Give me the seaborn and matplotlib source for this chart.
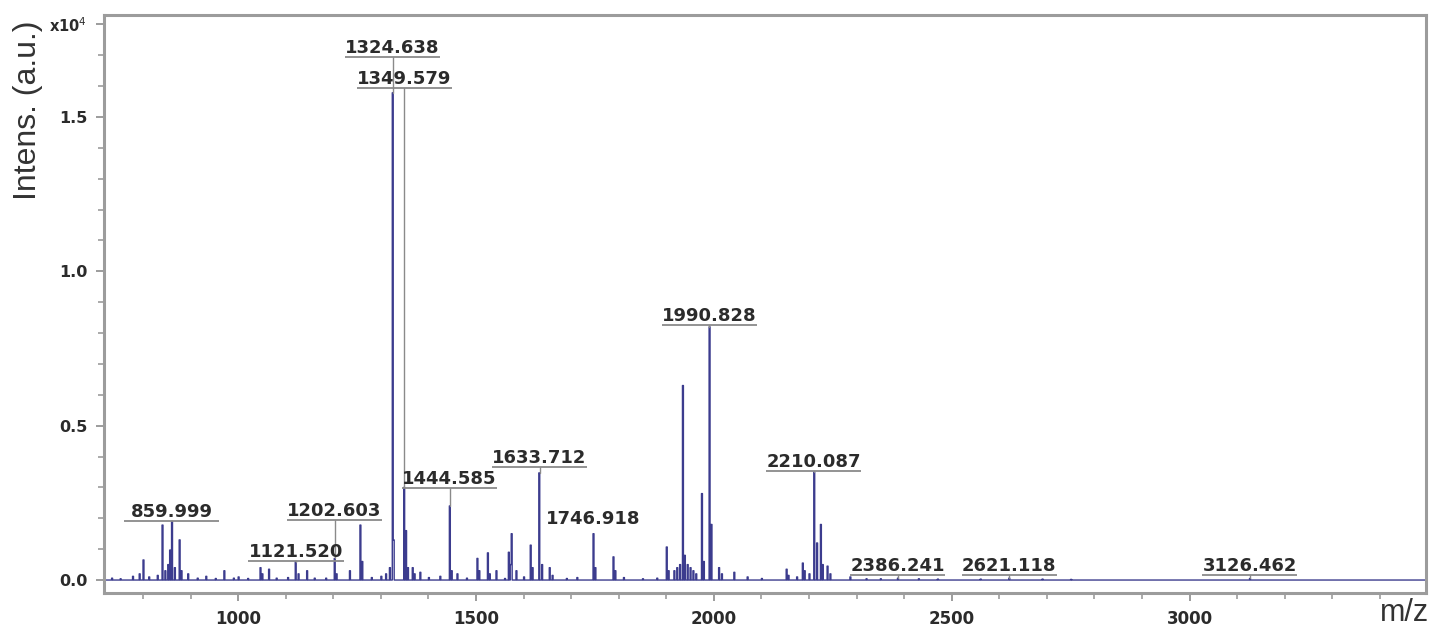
import numpy as np
import pandas as pd
import matplotlib
matplotlib.use("Agg")
import matplotlib.pyplot as plt
import seaborn as sns
from matplotlib.ticker import MultipleLocator

# ---------------- data (intensity in units of 1e4) ----------------
peak_mz = [735, 752, 778, 792, 800, 812, 830, 840, 846, 852, 857, 860, 866, 876, 880,
           895, 915, 933, 952, 971, 990, 1000, 1020, 1046, 1050, 1065, 1080, 1105,
           1121.5, 1126, 1145, 1160, 1185, 1202.6, 1207, 1234, 1257, 1261, 1280, 1300,
           1310, 1319, 1324.6, 1327, 1349.6, 1352, 1356, 1366, 1371, 1383, 1400, 1425,
           1444.6, 1448, 1461, 1480, 1503, 1507, 1524, 1528, 1543, 1560, 1569, 1572,
           1575, 1585, 1600, 1615, 1619, 1633.7, 1638, 1655, 1661, 1690, 1713,
           1746.9, 1751, 1789, 1793, 1811, 1850, 1880, 1900, 1904, 1916, 1922, 1928,
           1934, 1938, 1944, 1950, 1956, 1962, 1974, 1978, 1990.8, 1995, 2011, 2016,
           2042, 2071, 2100, 2152, 2156, 2175, 2187, 2191, 2200, 2210.1, 2216, 2225,
           2229, 2239, 2244, 2286, 2320, 2350, 2386.2, 2430, 2470, 2560, 2621.1, 2690,
           2750, 3126.5]
peak_int = [0.006, 0.004, 0.012, 0.02, 0.065, 0.01, 0.015, 0.178, 0.03, 0.05, 0.097, 0.19,
            0.04, 0.13, 0.03, 0.02, 0.006, 0.012, 0.005, 0.03, 0.006, 0.01, 0.005, 0.04,
            0.02, 0.035, 0.006, 0.008, 0.06, 0.02, 0.03, 0.006, 0.006, 0.07, 0.02, 0.03,
            0.178, 0.06, 0.008, 0.012, 0.02, 0.04, 1.578, 0.13, 0.30, 0.16, 0.04, 0.04,
            0.02, 0.025, 0.008, 0.012, 0.24, 0.03, 0.02, 0.006, 0.07, 0.03, 0.088, 0.02,
            0.03, 0.005, 0.09, 0.05, 0.15, 0.03, 0.01, 0.113, 0.04, 0.347, 0.05, 0.04,
            0.015, 0.005, 0.008, 0.15, 0.04, 0.075, 0.03, 0.008, 0.004, 0.006, 0.107,
            0.03, 0.03, 0.04, 0.05, 0.63, 0.08, 0.05, 0.04, 0.03, 0.02, 0.28, 0.06, 0.82,
            0.18, 0.04, 0.02, 0.025, 0.01, 0.005, 0.035, 0.015, 0.01, 0.055, 0.03, 0.02,
            0.35, 0.12, 0.18, 0.05, 0.045, 0.02, 0.01, 0.004, 0.004, 0.006, 0.004, 0.003,
            0.003, 0.006, 0.003, 0.002, 0.005]

label_mz = [859.999, 1121.520, 1202.603, 1324.638, 1349.579, 1444.585, 1633.712,
            1746.918, 1990.828, 2210.087, 2386.241, 2621.118, 3126.462]
label_text = ["859.999", "1121.520", "1202.603", "1324.638", "1349.579", "1444.585",
              "1633.712", "1746.918", "1990.828", "2210.087", "2386.241", "2621.118",
              "3126.462"]

# ---------------- layout (label placement) ----------------
label_level = [0.191, 0.062, 0.194, 1.694, 1.594, 0.298, 0.366, 0.168, 0.826, 0.353,
               0.016, 0.016, 0.016]
label_underline = [True, True, True, True, True, True, True, False, True, True, True,
                   True, True]

sns.set_theme(style="white")
plt.rcParams["font.family"] = ["DejaVu Sans"]

fig = plt.figure(figsize=(14.41, 6.37), dpi=100)
ax = fig.add_axes([104 / 1441, 1 - 593 / 637, (1426 - 104) / 1441, (593 - 15) / 637])

xmin, xmax = 718, 3497
df = pd.DataFrame({"mz": peak_mz, "intensity": peak_int})
sns.histplot(data=df, x="mz", weights="intensity", binwidth=2, binrange=(xmin, xmax + 1),
             element="step", fill=False, color="#3c3c8e", linewidth=1.0, ax=ax)

ax.set_xlim(xmin, xmax)
ax.set_ylim(-0.042, 1.83)
ax.set_xlabel("")
ax.set_ylabel("")

# spines
for s in ax.spines.values():
    s.set_visible(True)
    s.set_color("#9c9c9c")
    s.set_linewidth(2.2)

ax.xaxis.set_major_locator(MultipleLocator(500))
ax.xaxis.set_minor_locator(MultipleLocator(100))
ax.set_yticks([0, 0.5, 1.0, 1.5, 1.8])
ax.set_yticklabels(["0.0", "0.5", "1.0", "1.5", "x10$^{4}$"])
ax.yaxis.set_minor_locator(MultipleLocator(0.1))
ax.tick_params(axis="both", which="both", direction="out", color="#9c9c9c",
               bottom=True, left=True, top=False, right=False)
ax.tick_params(axis="both", which="major", length=6, width=1.4)
ax.tick_params(axis="both", which="minor", length=4, width=1.2)
ax.tick_params(axis="x", which="major", labelsize=12, labelcolor="#2b2b2b", pad=6)
ax.tick_params(axis="y", which="major", labelsize=11.5, labelcolor="#2b2b2b", pad=6)
for lbl in ax.get_xticklabels() + ax.get_yticklabels():
    lbl.set_fontweight("bold")
ax.get_yticklabels()[-1].set_fontsize(10.5)

# peak labels
pm = np.array(peak_mz)
pi = np.array(peak_int)
hw = 100
for mz, txt, lev, ul in zip(label_mz, label_text, label_level, label_underline):
    pk = pi[np.argmin(np.abs(pm - mz))]
    ax.annotate(txt, (mz, lev), xytext=(0, 3), textcoords="offset points",
                ha="center", va="baseline", fontsize=13, fontweight="bold",
                color="#2b2b2b")
    if ul:
        ax.plot([mz - hw, mz + hw], [lev, lev], color="#8a8a8a", lw=1.3,
                solid_capstyle="butt")
        if lev > pk:
            ax.plot([mz, mz], [lev, pk], color="#8a8a8a", lw=1.0)

fig.text(28 / 1441, 1 - 110 / 637, "Intens. (a.u.)", rotation=90, ha="center",
         va="center", fontsize=23, color="#333333", family="Liberation Sans")
fig.text(1405 / 1441, 1 - 613 / 637, "m/z", ha="center", va="center", fontsize=22,
         color="#333333", family="Liberation Sans")

fig.savefig("out.png", dpi=100)
